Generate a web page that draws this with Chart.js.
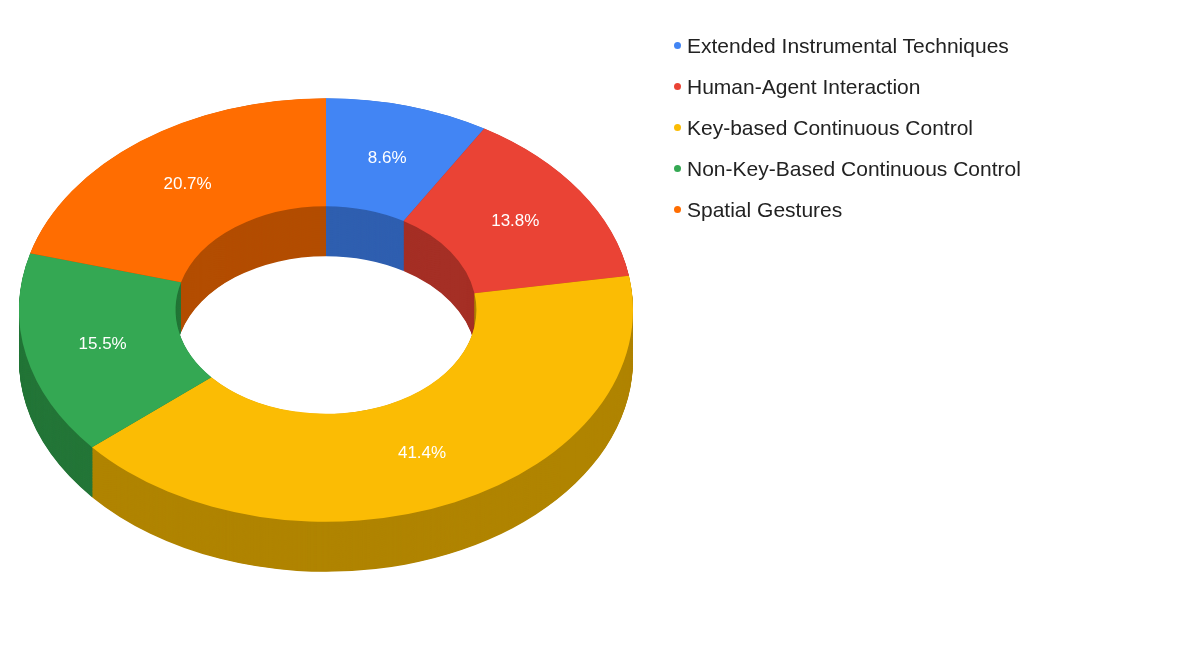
<!DOCTYPE html>
<html><head><meta charset="utf-8">
<script src="https://cdn.jsdelivr.net/npm/chart.js@4/dist/chart.umd.min.js"></script>
<style>
html,body{margin:0;padding:0;background:#fff;}
#wrap{position:relative;width:1200px;height:668px;}
#legend{position:absolute;left:674px;top:32px;font-family:"Liberation Sans",Arial,sans-serif;font-size:21px;color:#222;}
#legend div{height:41px;line-height:28px;white-space:nowrap;}
#legend span.dot{display:inline-block;width:7px;height:7px;border-radius:50%;margin-right:6px;vertical-align:middle;position:relative;top:-2px;}
</style></head>
<body><div id="wrap"><canvas id="c" width="1200" height="668"></canvas><div id="legend"></div></div>
<script>
const categories = ["Extended Instrumental Techniques","Human-Agent Interaction","Key-based Continuous Control","Non-Key-Based Continuous Control","Spatial Gestures"];
const values = [5, 8, 24, 9, 12];
const colors = ["#4285f4","#ea4335","#fbbc04","#34a853","#ff6d01"];
const sideColors = ["#2f5fb0","#a52f25","#b08400","#247638","#b34d01"];
const K = 0.69, DEPTH = 50;

const leg = document.getElementById('legend');
categories.forEach((c,i)=>{const d=document.createElement('div');d.innerHTML='<span class="dot" style="background:'+colors[i]+'"></span>'+c;leg.appendChild(d);});

function squash(chart){
  const a = chart.getDatasetMeta(0).data[0];
  const ctx = chart.ctx;
  ctx.translate(a.x, a.y); ctx.scale(1, K); ctx.translate(-a.x, -a.y);
}
const threeD = {
  id:'threeD',
  beforeDatasetsDraw(chart){
    const ctx = chart.ctx; const meta = chart.getDatasetMeta(0);
    ctx.save(); squash(chart);
    for(let d=DEPTH/K; d>0; d-=1){
      meta.data.forEach((a,i)=>{
        ctx.beginPath();
        ctx.arc(a.x, a.y+d, a.outerRadius, a.startAngle, a.endAngle);
        ctx.arc(a.x, a.y+d, a.innerRadius, a.endAngle, a.startAngle, true);
        ctx.closePath(); ctx.fillStyle = sideColors[i]; ctx.fill();
      });
    }
  },
  afterDatasetsDraw(chart){
    const ctx = chart.ctx; ctx.restore();
    const meta = chart.getDatasetMeta(0);
    const total = values.reduce((s,v)=>s+v,0);
    ctx.save();
    ctx.font = '17px "Liberation Sans", Arial, sans-serif';
    ctx.fillStyle = '#fff'; ctx.textAlign='center'; ctx.textBaseline='middle';
    meta.data.forEach((a,i)=>{
      const m=(a.startAngle+a.endAngle)/2, r=(a.outerRadius+a.innerRadius)/2;
      ctx.fillText((values[i]/total*100).toFixed(1)+'%', a.x+Math.cos(m)*r, a.y+Math.sin(m)*r*K);
    });
    ctx.restore();
  }
};
new Chart(document.getElementById('c'),{
  type:'doughnut',
  data:{labels:categories,datasets:[{data:values,backgroundColor:colors,borderWidth:0}]},
  options:{responsive:false,animation:false,cutout:'49%',
    layout:{padding:{left:19,right:567,top:3,bottom:51}},
    plugins:{legend:{display:false},tooltip:{enabled:false}}},
  plugins:[threeD]
});
</script></body></html>
